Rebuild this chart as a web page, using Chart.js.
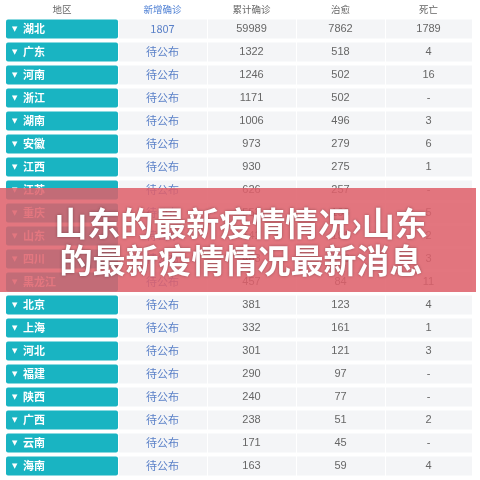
<!DOCTYPE html>
<html><head><meta charset="utf-8">
<script src="https://cdn.jsdelivr.net/npm/chart.js@4"></script>
<style>html,body{margin:0;background:#fff}#c{display:block}</style>
</head><body>
<div style="width:480px;height:480px"><canvas id="c"></canvas></div>
<script>
const headers = ['地区', '新增确诊', '累计确诊', '治愈', '死亡'];
const regions = ['湖北','广东','河南','浙江','湖南','安徽','江西','江苏','重庆','山东','四川','黑龙江','北京','上海','河北','福建','陕西','广西','云南','海南'];
const newCases = ['1807','待公布','待公布','待公布','待公布','待公布','待公布','待公布','待公布','待公布','待公布','待公布','待公布','待公布','待公布','待公布','待公布','待公布','待公布','待公布'];
const confirmed = [59989,1322,1246,1171,1006,973,930,626,553,541,463,457,381,332,301,290,240,238,171,163];
const cured = [7862,518,502,502,496,279,275,257,198,191,143,84,123,161,121,97,77,51,45,59];
const deaths = ['1789','4','16','-','3','6','1','-','5','2','3','11','4','1','3','-','-','2','-','4'];
const colEdges = [0, 112, 201, 290, 379, 466];
const title1 = '山东的最新疫情情况›山东';
const title2 = '的最新疫情情况最新消息';

const cols = [null, newCases, confirmed, cured, deaths];
const datasets = colEdges.slice(0, 5).map((e, i) => ({
  data: regions.map(() => [e + (i ? 1 : 0), colEdges[i + 1]]),
  backgroundColor: i === 0 ? '#19b4c2' : '#f4f5f7',
  borderRadius: i === 0 ? 2 : 0,
  borderSkipped: false,
  barPercentage: 0.83, categoryPercentage: 1
}));

const tablePlugin = {
  id: 'table',
  afterDatasetsDraw(chart) {
    const { ctx, scales: { x, y } } = chart;
    ctx.save();
    ctx.textBaseline = 'middle';
    // header
    ctx.font = '9.5px "Noto Sans CJK SC"';
    ctx.textAlign = 'center';
    headers.forEach((h, i) => {
      ctx.fillStyle = i === 1 ? '#4d7fd4' : '#666';
      const cx = i === 0 ? x.getPixelForValue(56) : x.getPixelForValue((colEdges[i] + colEdges[i + 1]) / 2);
      ctx.fillText(h, cx, 9);
    });
    regions.forEach((r, row) => {
      const cy = y.getPixelForValue(row);
      ctx.fillStyle = '#fff';
      ctx.font = '7px "DejaVu Sans"';
      ctx.textAlign = 'left';
      ctx.fillText('▼', x.getPixelForValue(6), cy);
      ctx.font = 'bold 11px "Noto Sans CJK SC"';
      ctx.fillText(r, x.getPixelForValue(17), cy);
      ctx.textAlign = 'center';
      for (let i = 1; i < 5; i++) {
        ctx.font = i === 1 ? '11px "Noto Sans CJK SC"' : '11px "Liberation Sans"';
        ctx.fillStyle = i === 1 ? '#5a80c8' : '#666';
        ctx.fillText(String(cols[i][row]), x.getPixelForValue((colEdges[i] + colEdges[i + 1]) / 2), cy);
      }
    });
    // banner overlay
    ctx.fillStyle = 'rgba(222,96,106,0.86)';
    ctx.fillRect(0, 188, 476, 104);
    ctx.font = 'bold 33px "Noto Sans CJK SC"';
    ctx.fillStyle = '#fff';
    ctx.shadowColor = 'rgba(0,0,0,0.35)';
    ctx.shadowBlur = 3;
    ctx.fillText(title1, 241, 223);
    ctx.fillText(title2, 241, 260);
    ctx.restore();
  }
};

new Chart(document.getElementById('c'), {
  type: 'bar',
  data: { labels: regions, datasets },
  options: {
    indexAxis: 'y', animation: false, responsive: true, maintainAspectRatio: false,
    layout: { padding: { left: 6, right: 8, top: 17.5, bottom: 2.5 } },
    plugins: { legend: { display: false }, tooltip: { enabled: false } },
    scales: {
      x: { display: false, min: 0, max: 466 },
      y: { display: false, stacked: true }
    }
  },
  plugins: [tablePlugin]
});
</script>
</body></html>
